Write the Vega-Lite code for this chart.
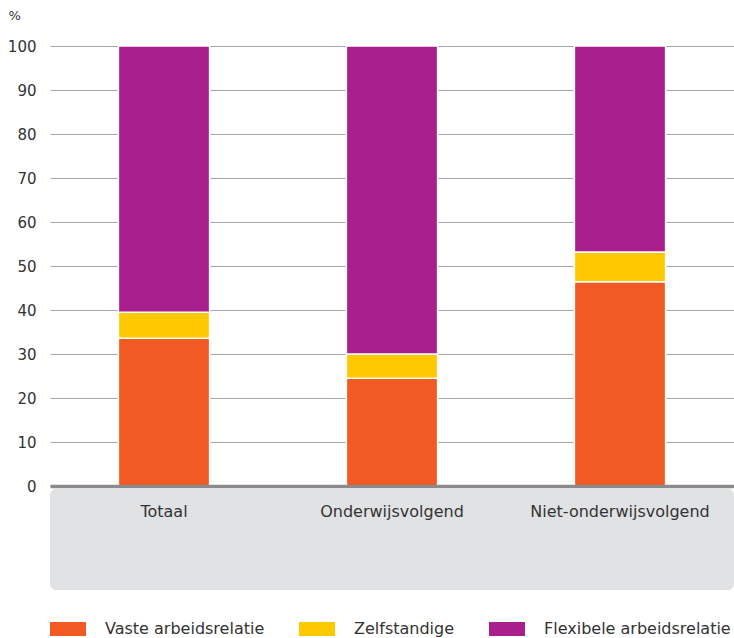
{
  "$schema": "https://vega.github.io/schema/vega-lite/v6.json",
  "padding": {"left": 7, "top": 9, "right": 0, "bottom": 0},
  "spacing": 3,
  "bounds": "flush",
  "config": {
    "font": "'DejaVu Sans', sans-serif",
    "view": {"stroke": null}
  },
  "datasets": {
    "shares": [
      {"groep": "Totaal", "type": "Vaste arbeidsrelatie", "rang": 1, "aandeel": 33.6},
      {"groep": "Totaal", "type": "Zelfstandige", "rang": 2, "aandeel": 5.9},
      {"groep": "Totaal", "type": "Flexibele arbeidsrelatie", "rang": 3, "aandeel": 60.5},
      {"groep": "Onderwijsvolgend", "type": "Vaste arbeidsrelatie", "rang": 1, "aandeel": 24.5},
      {"groep": "Onderwijsvolgend", "type": "Zelfstandige", "rang": 2, "aandeel": 5.5},
      {"groep": "Onderwijsvolgend", "type": "Flexibele arbeidsrelatie", "rang": 3, "aandeel": 70.0},
      {"groep": "Niet-onderwijsvolgend", "type": "Vaste arbeidsrelatie", "rang": 1, "aandeel": 46.4},
      {"groep": "Niet-onderwijsvolgend", "type": "Zelfstandige", "rang": 2, "aandeel": 6.8},
      {"groep": "Niet-onderwijsvolgend", "type": "Flexibele arbeidsrelatie", "rang": 3, "aandeel": 46.8}
    ],
    "groepen": [
      {"groep": "Totaal"},
      {"groep": "Onderwijsvolgend"},
      {"groep": "Niet-onderwijsvolgend"}
    ]
  },
  "vconcat": [
    {
      "width": 684,
      "height": 440,
      "data": {"name": "shares"},
      "mark": {"type": "bar", "stroke": "white", "strokeWidth": 1.5},
      "encoding": {
        "x": {
          "field": "groep",
          "type": "nominal",
          "sort": ["Totaal", "Onderwijsvolgend", "Niet-onderwijsvolgend"],
          "scale": {"paddingInner": 0.6, "paddingOuter": 0.3},
          "axis": {"title": null, "labels": false, "ticks": false, "domain": true, "domainColor": "#8a8a8a", "domainWidth": 3.5, "minExtent": 0, "maxExtent": 0, "labelPadding": 0, "zindex": 1}
        },
        "y": {
          "field": "aandeel",
          "type": "quantitative",
          "stack": "zero",
          "scale": {"domain": [0, 100], "nice": false},
          "axis": {
            "title": "%",
            "titleAngle": 0,
            "titleAlign": "left",
            "titleBaseline": "top",
            "titleX": -42,
            "titleY": -37,
            "titleFontWeight": "normal",
            "titleFontSize": 13,
            "titleColor": "#333333",
            "values": [0, 10, 20, 30, 40, 50, 60, 70, 80, 90, 100],
            "ticks": false,
            "domain": false,
            "labelPadding": 14,
            "labelFontSize": 15,
            "labelColor": "#333333",
            "gridColor": "#a8a8a8",
            "gridWidth": 1
          }
        },
        "color": {
          "field": "type",
          "type": "nominal",
          "scale": {
            "domain": ["Vaste arbeidsrelatie", "Zelfstandige", "Flexibele arbeidsrelatie"],
            "range": ["#f15a22", "#ffc900", "#aa1f8e"]
          },
          "legend": {
            "title": null,
            "orient": "bottom",
            "direction": "horizontal",
            "symbolType": "M-1,-0.39H1V0.39H-1Z",
            "symbolSize": 1296,
            "symbolStrokeWidth": 0,
            "labelFontSize": 16,
            "labelColor": "#333333",
            "labelOffset": 19,
            "labelLimit": 300,
            "columnPadding": 34,
            "offset": 21
          }
        },
        "order": {"field": "rang", "type": "quantitative"}
      }
    },
    {
      "width": 684,
      "height": 101,
      "view": {"fill": "#e1e2e4", "cornerRadius": 6},
      "data": {"name": "groepen"},
      "mark": {"type": "text", "dy": -28, "fontSize": 16, "color": "#333333"},
      "encoding": {
        "x": {
          "field": "groep",
          "type": "nominal",
          "sort": ["Totaal", "Onderwijsvolgend", "Niet-onderwijsvolgend"],
          "scale": {"paddingInner": 0.6, "paddingOuter": 0.3},
          "axis": null
        },
        "text": {"field": "groep"}
      }
    }
  ]
}
